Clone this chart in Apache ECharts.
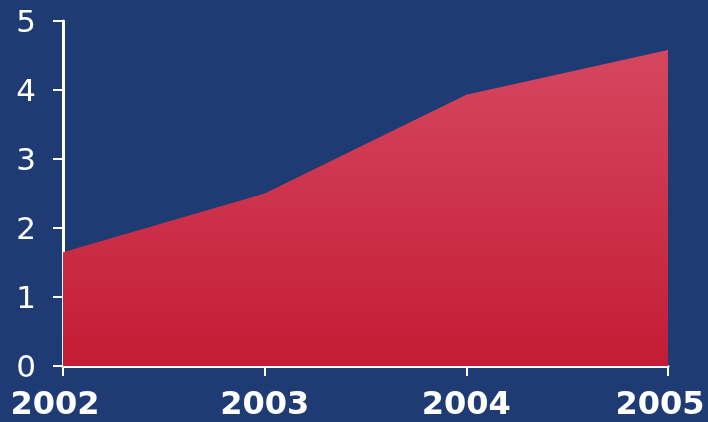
<!DOCTYPE html>
<html>
<head>
<meta charset="utf-8">
<script src="https://cdn.jsdelivr.net/npm/echarts@6/dist/echarts.min.js"></script>
<style>
  html, body { margin: 0; padding: 0; background: #1f3b73; }
  #chart { width: 708px; height: 422px; }
</style>
</head>
<body>
<div id="chart"></div>
<script>
// data
const years = ['2002', '2003', '2004', '2005']
const values = [1.65, 2.5, 3.93, 4.58]
const yTicks = [0, 1, 2, 3, 4, 5]

const chart = echarts.init(document.getElementById('chart'))
const option = {
  backgroundColor: '#1f3b73',
  animation: false,
  grid: { left: 63, right: 40, top: 21, bottom: 56 },
  xAxis: {
    type: 'category',
    boundaryGap: false,
    data: years,
    axisLine: { lineStyle: { color: '#fff', width: 3 } },
    axisTick: { show: true, interval: 0, length: 10, lineStyle: { color: '#fff', width: 2 } },
    axisLabel: {
      interval: 0,
      hideOverlap: false,
      color: '#fff',
      fontFamily: 'DejaVu Sans',
      fontWeight: 'bold',
      fontSize: 32,
      margin: 24,
      showMinLabel: true,
      showMaxLabel: true,
      // first and last labels sit a little left of their ticks
      formatter: (v, i) => (i === 0 || i === years.length - 1 ? '{e|' + v + '}' : v),
      rich: {
        e: {
          color: '#fff',
          fontFamily: 'DejaVu Sans',
          fontWeight: 'bold',
          fontSize: 32,
          padding: [0, 16, 0, 0]
        }
      }
    }
  },
  yAxis: {
    type: 'value',
    min: yTicks[0],
    max: yTicks[yTicks.length - 1],
    interval: 1,
    splitLine: { show: false },
    axisLine: { show: true, lineStyle: { color: '#fff', width: 3 } },
    axisTick: { show: true, length: 10, lineStyle: { color: '#fff', width: 2 } },
    axisLabel: {
      color: '#fff',
      fontFamily: 'DejaVu Sans',
      fontSize: 31,
      margin: 27,
      formatter: (v) => '{n|' + v + '}',
      rich: {
        n: {
          color: '#fff',
          fontFamily: 'DejaVu Sans',
          fontSize: 31,
          padding: [6, 0, 0, 0]
        }
      }
    }
  },
  series: [
    {
      type: 'line',
      data: values,
      symbol: 'none',
      lineStyle: { width: 0 },
      areaStyle: {
        opacity: 1,
        color: new echarts.graphic.LinearGradient(0, 0, 0, 1, [
          { offset: 0, color: '#d5475f' },
          { offset: 1, color: '#c41c35' }
        ])
      }
    }
  ]
}
chart.setOption(option)
</script>
</body>
</html>
